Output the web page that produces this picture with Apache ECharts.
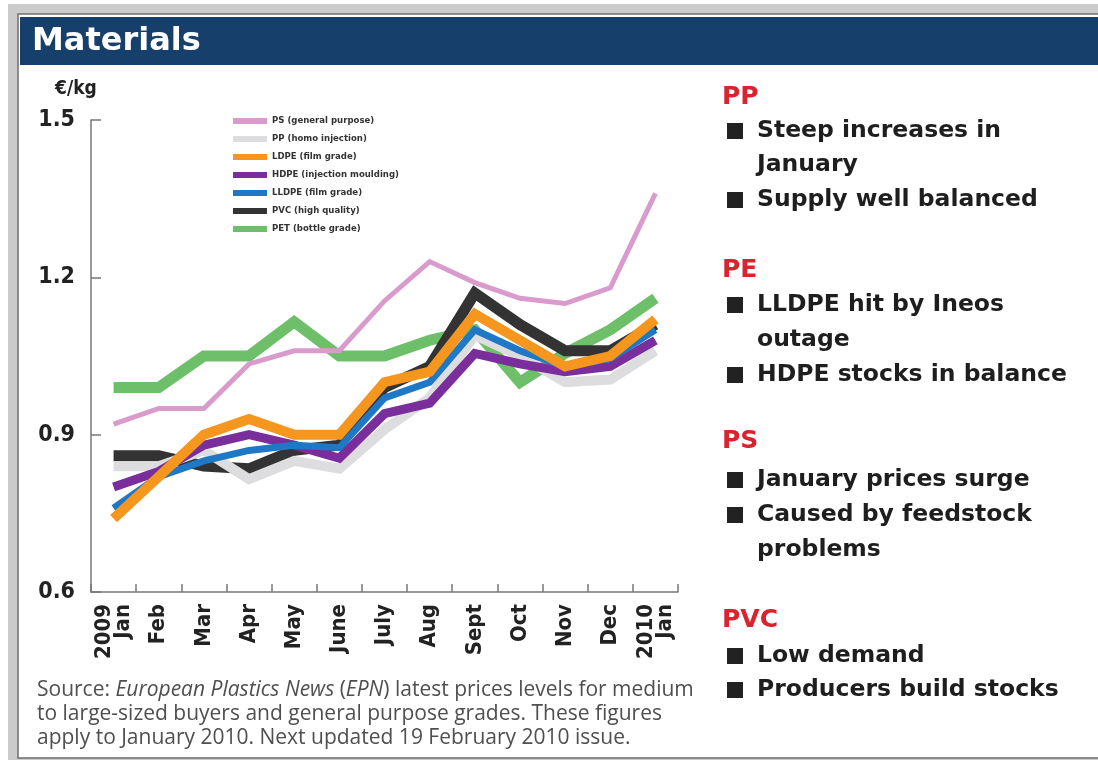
<!DOCTYPE html>
<html>
<head>
<meta charset="utf-8">
<script src="https://cdn.jsdelivr.net/npm/echarts@6/dist/echarts.min.js"></script>
<style>
html,body{margin:0;padding:0;background:#fff;}
#chart{width:1098px;height:763px;}
</style>
</head>
<body>
<div id="chart"></div>
<script>
// ---- data ----
const months = ['2009\nJan','Feb','Mar','Apr','May','June','July','Aug','Sept','Oct','Nov','Dec','2010\nJan'];
const yTicks = [0.6, 0.9, 1.2, 1.5];
const psGeneral   = [0.92, 0.95, 0.95, 1.035, 1.06, 1.06, 1.155, 1.23, 1.19, 1.16, 1.15, 1.18, 1.36];
const ppHomo      = [0.84, 0.84, 0.87, 0.815, 0.85, 0.835, 0.91, 0.97, 1.09, 1.05, 1.00, 1.005, 1.06];
const ldpeFilm    = [0.74, 0.82, 0.90, 0.93, 0.90, 0.90, 1.00, 1.02, 1.13, 1.08, 1.03, 1.05, 1.12];
const hdpeInj     = [0.80, 0.83, 0.88, 0.90, 0.88, 0.855, 0.94, 0.96, 1.055, 1.035, 1.02, 1.03, 1.08];
const lldpeFilm   = [0.76, 0.82, 0.85, 0.87, 0.88, 0.875, 0.97, 1.00, 1.10, 1.06, 1.03, 1.045, 1.10];
const pvcHigh     = [0.86, 0.86, 0.84, 0.835, 0.87, 0.88, 0.99, 1.03, 1.17, 1.11, 1.06, 1.06, 1.11];
const petBottle   = [0.99, 0.99, 1.05, 1.05, 1.115, 1.05, 1.05, 1.08, 1.10, 1.00, 1.055, 1.10, 1.16];
const seriesNames = ['PS (general purpose)','PP (homo injection)','LDPE (film grade)','HDPE (injection moulding)','LLDPE (film grade)','PVC (high quality)','PET (bottle grade)'];

const notes = [
  {head:'PP', items:[['Steep increases in','January'],['Supply well balanced']]},
  {head:'PE', items:[['LLDPE hit by Ineos','outage'],['HDPE stocks in balance']]},
  {head:'PS', items:[['January prices surge'],['Caused by feedstock','problems']]},
  {head:'PVC', items:[['Low demand'],['Producers build stocks']]}
];

// ---- styling ----
const styles = {
  'PS (general purpose)':      {color:'#d99bcb', width:5},
  'PP (homo injection)':       {color:'#dddddf', width:10},
  'LDPE (film grade)':         {color:'#f5961f', width:10},
  'HDPE (injection moulding)': {color:'#7a2e9c', width:9},
  'LLDPE (film grade)':        {color:'#1e78c6', width:7},
  'PVC (high quality)':        {color:'#333333', width:11},
  'PET (bottle grade)':        {color:'#6dbf6a', width:11}
};
const dataByName = {
  'PS (general purpose)': psGeneral,
  'PP (homo injection)': ppHomo,
  'LDPE (film grade)': ldpeFilm,
  'HDPE (injection moulding)': hdpeInj,
  'LLDPE (film grade)': lldpeFilm,
  'PVC (high quality)': pvcHigh,
  'PET (bottle grade)': petBottle
};
// drawing order (bottom -> top)
const drawOrder = ['PET (bottle grade)','PVC (high quality)','PP (homo injection)','HDPE (injection moulding)','LLDPE (film grade)','LDPE (film grade)','PS (general purpose)'];

const series = drawOrder.map(n => ({
  name:n, type:'line', data:dataByName[n], symbol:'none', smooth:false,
  itemStyle:{color:styles[n].color},
  lineStyle:{color:styles[n].color, width:styles[n].width, cap:'butt', join:'miter'},
  emphasis:{disabled:true}, silent:true, animation:false
}));

// ---- graphics (frame, title, notes, source) ----
const HEAVY = '"DejaVu Sans", sans-serif';
const COND = '"DejaVu Sans Condensed", "DejaVu Sans", sans-serif';
const graphics = [];
graphics.push({type:'rect', shape:{x:8,y:4,width:1100,height:756}, style:{fill:'#cbcbcb'}, z:-10});
graphics.push({type:'rect', shape:{x:18,y:14,width:1090,height:744}, style:{fill:'#ffffff', stroke:'#6f6f6f', lineWidth:1.5}, z:-9});
graphics.push({type:'rect', shape:{x:20,y:17,width:1078,height:48}, style:{fill:'#173f6b'}, z:-8});
graphics.push({type:'text', x:32, y:42, style:{text:'Materials', fill:'#ffffff', font:'bold 32px ' + HEAVY, verticalAlign:'middle'}});
graphics.push({type:'text', x:55, y:89, style:{text:'€/kg', fill:'#222', font:'bold 19px ' + COND, verticalAlign:'middle'}});

const noteY = [[97,[[131,165],[200]]],[270,[[305,340],[375]]],[441,[[480],[515,550]]],[620,[[656],[690]]]];
notes.forEach((blk, bi) => {
  const [hy, itemYs] = noteY[bi];
  graphics.push({type:'text', x:722, y:hy, style:{text:blk.head, fill:'#d9232e', font:'bold 25px ' + HEAVY, verticalAlign:'middle'}});
  blk.items.forEach((lines, ii) => {
    const ys = itemYs[ii];
    graphics.push({type:'rect', shape:{x:727, y:ys[0]-8, width:16, height:16}, style:{fill:'#222'}});
    lines.forEach((ln, li) => {
      graphics.push({type:'text', x:757, y:ys[li], style:{text:ln, fill:'#1e1e1e', font:'bold 23.5px ' + HEAVY, verticalAlign:'middle'}});
    });
  });
});

const SRC = '21px "Open Sans", Roboto, sans-serif';
graphics.push({type:'text', x:37, y:690, style:{
  text:'{n|Source: }{i|European Plastics News}{n| (}{i|EPN}{n|) latest prices levels for medium}',
  verticalAlign:'middle',
  rich:{n:{font:SRC, fill:'#4f4f4f'}, i:{font:'italic ' + SRC, fill:'#4f4f4f'}}
}});
graphics.push({type:'text', x:37, y:714, style:{text:'to large-sized buyers and general purpose grades. These figures', font:SRC, fill:'#4f4f4f', verticalAlign:'middle'}});
graphics.push({type:'text', x:37, y:738, style:{text:'apply to January 2010. Next updated 19 February 2010 issue.', font:SRC, fill:'#4f4f4f', verticalAlign:'middle'}});

const chart = echarts.init(document.getElementById('chart'), null, {renderer:'canvas'});
chart.setOption({
  animation:false,
  backgroundColor:'#ffffff',
  graphic:{elements:graphics},
  legend:{
    data:seriesNames, orient:'vertical', left:228, top:110,
    icon:'rect', itemWidth:34, itemHeight:6, itemGap:6,
    selectedMode:false,
    textStyle:{fontSize:9.5, fontWeight:'bold', color:'#333', fontFamily:COND, lineHeight:12, padding:[0,0,0,0]}
  },
  grid:{left:91, right:420, top:120, bottom:171, containLabel:false},
  xAxis:{
    type:'category', data:months, boundaryGap:true,
    axisLine:{show:true, lineStyle:{color:'#777', width:1.5}},
    axisTick:{show:true, inside:true, length:8, lineStyle:{color:'#777', width:1.5}},
    axisLabel:{rotate:90, interval:0, margin:12, fontSize:22, fontWeight:'bold', color:'#222',
      fontFamily:COND, lineHeight:19},
    splitLine:{show:false}
  },
  yAxis:{
    type:'value', min:yTicks[0], max:yTicks[yTicks.length-1], interval:0.3,
    axisLine:{show:true, lineStyle:{color:'#777', width:1.5}},
    axisTick:{show:true, inside:true, length:10, lineStyle:{color:'#777', width:1.5}},
    axisLabel:{margin:16, fontSize:23, fontWeight:'bold', color:'#222',
      fontFamily:COND,
      formatter: v => v.toFixed(1)},
    splitLine:{show:false}
  },
  series:series
});
</script>
</body>
</html>
